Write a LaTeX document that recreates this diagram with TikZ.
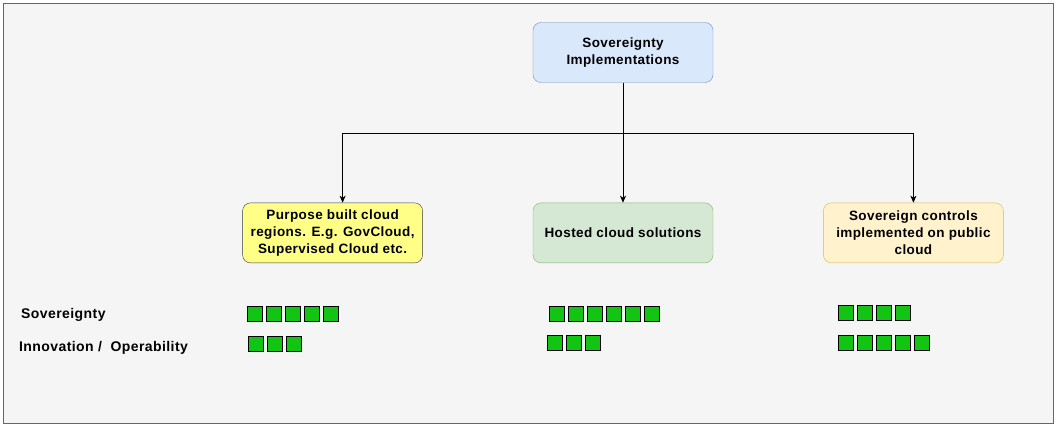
\documentclass[tikz,border=0pt]{standalone}
\usepackage{fontspec}
\setmainfont{Liberation Sans}[LetterSpace=3]
\usetikzlibrary{arrows.meta, positioning}
\definecolor{canvasfill}{HTML}{F5F5F5}
\definecolor{canvasline}{HTML}{666666}
\definecolor{topfill}{HTML}{DAE8FC}
\definecolor{topline}{HTML}{6C8EBF}
\definecolor{purposefill}{HTML}{FFFF88}
\definecolor{purposeline}{HTML}{36393D}
\definecolor{hostedfill}{HTML}{D5E8D4}
\definecolor{hostedline}{HTML}{82B366}
\definecolor{controlfill}{HTML}{FFF2CC}
\definecolor{controlline}{HTML}{D6B656}
\definecolor{scorefill}{HTML}{14C414}

\begin{document}
\begin{tikzpicture}[
        x=1pt, y=-1pt,
        implbox/.style={
            draw,
            rounded corners=8pt,
            minimum width=180pt,
            minimum height=60pt,
            align=center,
            inner sep=0pt,
            font=\fontsize{13.5}{16.8}\selectfont\bfseries
        },
        link/.style={-{Stealth[length=7pt, width=6pt, inset=2pt]}, line width=0.8pt},
        scorebox/.style={draw, line width=1.1pt, fill=scorefill,
            minimum size=15pt, inner sep=0pt, anchor=north west},
        rowlabel/.style={anchor=west, inner sep=0pt,
            font=\fontsize{14}{17}\selectfont\bfseries}
    ]
        \useasboundingbox (0,0) rectangle (1057,427);
        \draw[canvasline, fill=canvasfill] (3,3) rectangle (1053,423);

        \node[implbox, fill=topfill, draw=topline] (top) at (623,52.5)
            {Sovereignty\\Implementations};
        \node[implbox, fill=hostedfill, draw=hostedline, below=120pt of top] (hosted)
            {Hosted cloud solutions};
        \node[implbox, fill=purposefill, draw=purposeline, left=110pt of hosted] (purpose)
            {Purpose built cloud\\regions. E.g. GovCloud,\\Supervised Cloud etc.};
        \node[implbox, fill=controlfill, draw=controlline, right=110pt of hosted] (control)
            {Sovereign controls\\implemented on public\\cloud};

        \coordinate (split) at (623,133);
        \draw[link] (top.south) -- (split) -| ([xshift=10pt]purpose.north);
        \draw[link] (split) -| (control.north);
        \draw[link] (top.south) -- (hosted.north);

        \node[rowlabel] (sovlabel) at (21,315) {Sovereignty};
        \node[rowlabel] (innolabel) at (19,348) {Innovation /\ \ Operability};

        % score squares
        \foreach \i in {0,...,4}
            \node[scorebox] (purposesov\i) at (247+19*\i,306) {};
        \foreach \i in {0,...,2}
            \node[scorebox] (purposeinno\i) at (248+19*\i,336) {};
        \foreach \i in {0,...,5}
            \node[scorebox] (hostedsov\i) at (549+19*\i,306) {};
        \foreach \i in {0,...,2}
            \node[scorebox] (hostedinno\i) at (547+19*\i,335) {};
        \foreach \i in {0,...,3}
            \node[scorebox] (controlsov\i) at (838+19*\i,305) {};
        \foreach \i in {0,...,4}
            \node[scorebox] (controlinno\i) at (838+19*\i,335) {};
    \end{tikzpicture}
\end{document}
